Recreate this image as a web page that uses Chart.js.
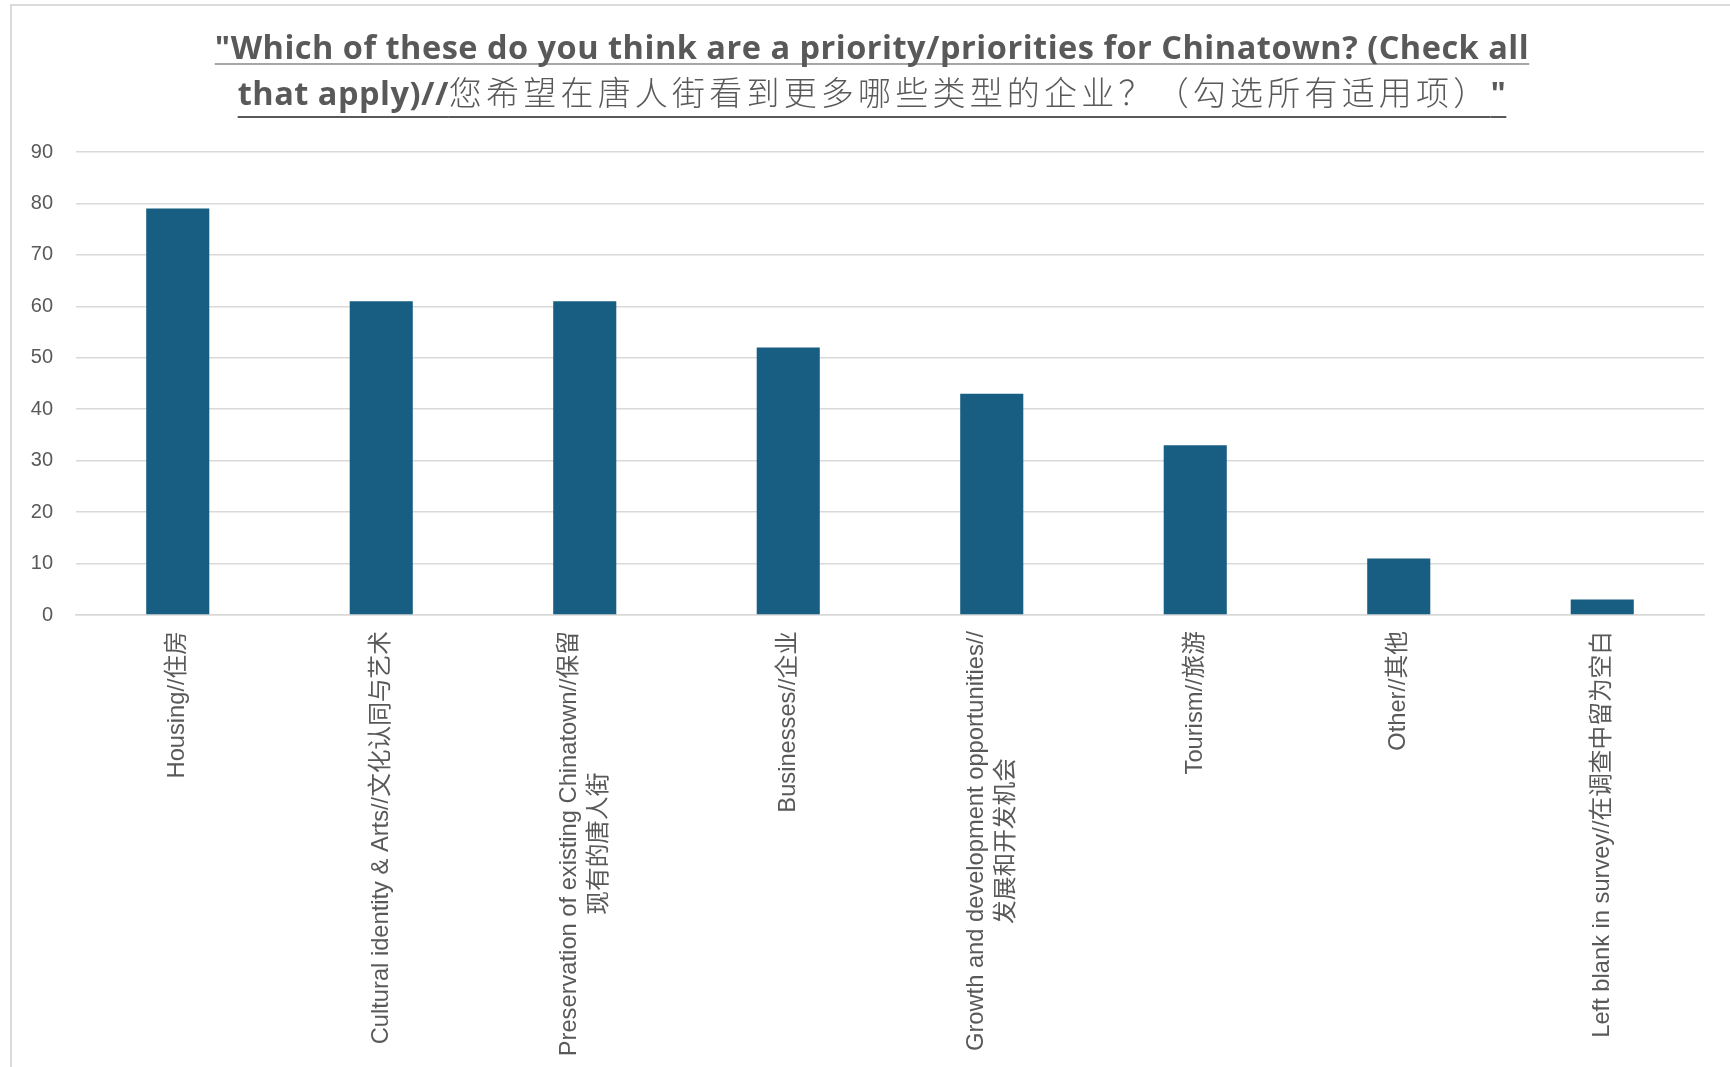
<!DOCTYPE html>
<html>
<head>
<meta charset="utf-8">
<script src="https://cdn.jsdelivr.net/npm/chart.js@4/dist/chart.umd.min.js"></script>
<style>
  html, body { margin: 0; padding: 0; background: #ffffff; }
  body { width: 1730px; height: 1067px; position: relative; overflow: hidden; }
  #frame { position: absolute; left: 10px; top: 4px; right: -4px; bottom: -4px;
           border-left: 2px solid #dadada; border-top: 2px solid #dadada; }
  #chartWrap { position: absolute; left: 0; top: 0; width: 1730px; height: 1067px; }
  #title { position: absolute; left: 0; top: 25px; width: 1744px; text-align: center;
           font-family: "Open Sans", "Noto Sans CJK SC", sans-serif; font-size: 32.5px;
           letter-spacing: 0.5px; line-height: 44px; color: #595959; font-weight: 700; }
  #title .l1 { text-decoration: underline; text-decoration-color: #a6a6a6;
               text-decoration-thickness: 1.5px; text-underline-offset: 3.5px;
               text-decoration-skip-ink: none; }
  #title .l2 { text-decoration: underline; text-decoration-color: #595959;
               text-decoration-thickness: 2px; text-underline-offset: 11px;
               text-decoration-skip-ink: none; }
  #title .cjk { font-family: "Noto Sans CJK SC", sans-serif; font-weight: 300;
                font-size: 33px; letter-spacing: 4.2px; }
</style>
</head>
<body>
<div id="frame"></div>
<div id="chartWrap"><canvas id="c" width="1730" height="1067"></canvas></div>
<div id="title"><span class="l1">"Which of these do you think are a priority/priorities for Chinatown? (Check all</span><br><span class="l2">that apply)//<span class="cjk">您希望在唐人街看到更多哪些类型的企业？（勾选所有适用项）</span>"</span></div>
<script>
// ---- data ----
const categories = [
  ["Housing//住房"],
  ["Cultural identity & Arts//文化认同与艺术"],
  ["Preservation of existing Chinatown//保留", "现有的唐人街"],
  ["Businesses//企业"],
  ["Growth and development opportunities//", "发展和开发机会"],
  ["Tourism//旅游"],
  ["Other//其他"],
  ["Left blank in survey//在调查中留为空白"]
];
const counts = [79, 61, 61, 52, 43, 33, 11, 3];
const yMin = 0;
const yMax = 90;
const yStep = 10;

// ---- styles ----
const barColor = "#175E82";
const gridColor = "#d9d9d9";
const textColor = "#595959";
const labelFont = '23.7px "Liberation Sans", "Noto Sans CJK SC", sans-serif';
const labelLineHeight = 30;
const labelGap = 16;

const rotatedLabels = {
  id: "rotatedLabels",
  afterDraw(chart) {
    const xs = chart.scales.x;
    const ctx = chart.ctx;
    const top = chart.chartArea.bottom + labelGap;
    ctx.save();
    ctx.font = labelFont;
    ctx.fillStyle = textColor;
    ctx.textBaseline = "middle";
    ctx.textAlign = "center";
    chart.data.labels.forEach((lines, i) => {
      const px = xs.getPixelForValue(i);
      const w = Math.max(...lines.map(l => ctx.measureText(l).width));
      ctx.save();
      ctx.translate(px, top);
      ctx.rotate(-Math.PI / 2);
      const n = lines.length;
      lines.forEach((line, j) => {
        ctx.fillText(line, -w / 2, (j - (n - 1) / 2) * labelLineHeight);
      });
      ctx.restore();
    });
    ctx.restore();
  }
};

new Chart(document.getElementById("c"), {
  type: "bar",
  data: {
    labels: categories,
    datasets: [{
      data: counts,
      backgroundColor: barColor,
      borderWidth: 0,
      categoryPercentage: 1.0,
      barPercentage: 0.31
    }]
  },
  options: {
    responsive: false,
    animation: false,
    events: [],
    layout: { padding: { top: 152, right: 26, bottom: 0, left: 0 } },
    plugins: { legend: { display: false }, tooltip: { enabled: false }, title: { display: false } },
    scales: {
      x: {
        grid: { display: false },
        border: { display: true, color: gridColor, width: 1.5 },
        ticks: { display: false },
        afterFit(scale) { scale.height = 1067 - 615; }
      },
      y: {
        min: yMin,
        max: yMax,
        ticks: {
          stepSize: yStep,
          color: textColor,
          font: { family: '"Liberation Sans", sans-serif', size: 20 },
          padding: 23
        },
        grid: { color: gridColor, lineWidth: 1.5, drawTicks: false },
        border: { display: false },
        afterFit(scale) { scale.width = 76; }
      }
    }
  },
  plugins: [rotatedLabels]
});
</script>
</body>
</html>
